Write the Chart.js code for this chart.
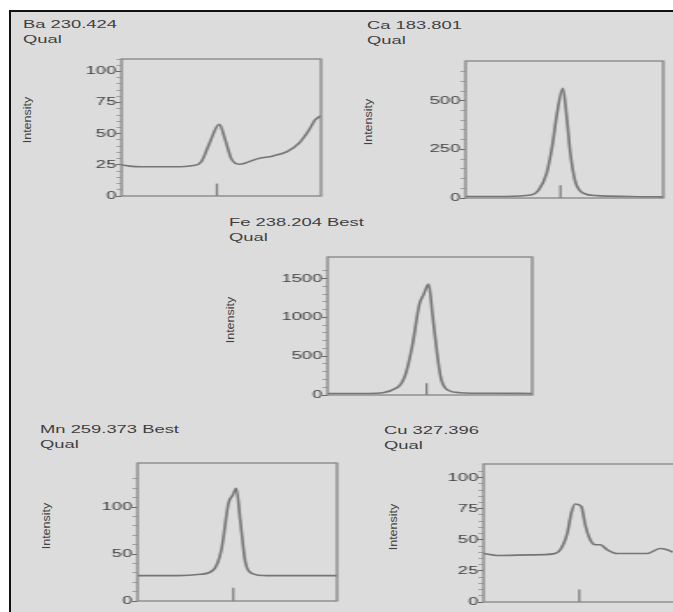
<!DOCTYPE html>
<html>
<head>
<meta charset="utf-8">
<script src="https://cdn.jsdelivr.net/npm/chart.js@4.4.1/dist/chart.umd.min.js"></script>
<style>
  html, body { margin: 0; padding: 0; background: #fff; overflow: hidden; width: 673px; height: 612px; }
  #frame { position: absolute; left: 9px; top: 10px; width: 700px; height: 640px; background: #dcdcdc;
           border-top: 2px solid #111; border-left: 2px solid #111; }
  .ttl { position: absolute; font: 10.5px "Liberation Sans", Arial, sans-serif; line-height: 14.5px; color: #3f3f3f;
         transform: scaleX(1.75); transform-origin: 0 0; white-space: nowrap; }
  .ylab { position: absolute; font: 12.5px "Liberation Sans", Arial, sans-serif; color: #444; white-space: nowrap;
          transform: translate(-50%, -50%) rotate(-90deg) scaleY(0.9); }
  .box { position: absolute; transform-origin: 0 0; }
</style>
</head>
<body>
<div id="frame"></div>
<script>
const S = 1.75;  // the scanned report is stretched sideways
const YW = 34;   // y axis width inside each canvas

// x = position across the scan window (0-100), y = intensity
const baPos = [0, 4, 10, 26, 36, 40, 44, 49, 52, 55, 59, 63, 68, 76, 83, 89, 94, 97, 100];
const baInt = [25, 24, 23.5, 23.5, 24.5, 27.5, 42, 57.5, 45, 30, 25.5, 27, 29.8, 32.2, 35.7, 42.5, 53, 61, 64.5];
const baMark = [47.8, 10];

const caPos = [0, 20, 33, 37, 41, 43.8, 46.3, 49.2, 51.3, 53, 55.5, 59.8, 66.5, 83, 100];
const caInt = [8, 8, 15, 41, 127, 264, 437, 565, 402, 230, 84, 24, 12, 8, 6];
const caMark = [48, 65];

const fePos = [0, 20, 34, 38, 41.5, 44.8, 47, 49.4, 51.3, 53.4, 55.4, 58.7, 65, 80, 100];
const feInt = [20, 20, 95, 258, 646, 1163, 1300, 1430, 1034, 560, 215, 65, 30, 22, 20];
const feMark = [48.4, 150];

const mnPos = [0, 20, 31.5, 38, 42, 45.7, 47.8, 49.5, 51.5, 54, 57.3, 65, 80, 100];
const mnInt = [27, 27, 28.4, 33, 54, 105, 113, 120, 86, 42, 29.5, 27, 27, 27];
const mnMark = [48, 14];

const cuPos = [0, 7, 23.5, 35, 38.5, 42, 44, 46, 49, 51, 53.5, 56, 58.5, 62, 67, 82, 88.5, 92, 95];
const cuInt = [39, 37.4, 37.9, 38.7, 42, 55.4, 71.5, 78.8, 77, 62, 50, 46, 46, 42, 39, 39, 43, 42, 40];
const cuMark = [48, 10];

// y axis: max, labelled step, tick step
const panels = [
  { name: 'Ba 230.424', pos: baPos, val: baInt, mark: baMark, ymax: 110, major: 25, minor: 5,
    L: 121, T: 59, R: 321, B: 196, tx: 23, ty: 17, lx: 27, ly: 120 },
  { name: 'Ca 183.801', pos: caPos, val: caInt, mark: caMark, ymax: 705, major: 250, minor: 50,
    L: 465, T: 61, R: 663, B: 198, tx: 367, ty: 18, lx: 368, ly: 122 },
  { name: 'Fe 238.204 Best', pos: fePos, val: feInt, mark: feMark, ymax: 1780, major: 500, minor: 100,
    L: 327, T: 257, R: 531, B: 395, tx: 229, ty: 215, lx: 230, ly: 320 },
  { name: 'Mn 259.373 Best', pos: mnPos, val: mnInt, mark: mnMark, ymax: 147, major: 50, minor: 10,
    L: 137, T: 463, R: 337, B: 601, tx: 40, ty: 422, lx: 46, ly: 526 },
  { name: 'Cu 327.396', pos: cuPos, val: cuInt, mark: cuMark, ymax: 111, major: 25, minor: 5,
    L: 483, T: 464, R: 683, B: 602, tx: 384, ty: 423, lx: 393, ly: 527 }
];

const boxFrame = {
  id: 'boxFrame',
  afterDraw(chart) {
    const { ctx, chartArea: a } = chart;
    ctx.save();
    ctx.strokeStyle = '#858585';
    ctx.lineWidth = 1.3;
    ctx.strokeRect(a.left, a.top, a.right - a.left, a.bottom - a.top);
    ctx.restore();
  }
};

function addPanel(p) {
  const t = document.createElement('div');
  t.className = 'ttl';
  t.style.left = p.tx + 'px';
  t.style.top = p.ty + 'px';
  t.innerHTML = p.name + '<br>Qual';
  document.body.appendChild(t);

  const yl = document.createElement('div');
  yl.className = 'ylab';
  yl.style.left = p.lx + 'px';
  yl.style.top = p.ly + 'px';
  yl.textContent = 'Intensity';
  document.body.appendChild(yl);

  const w = Math.round(YW + (p.R - p.L) / S + 4);
  const h = (p.B - p.T) + 16;
  const box = document.createElement('div');
  box.className = 'box';
  box.style.left = (p.L - YW * S) + 'px';
  box.style.top = (p.T - 8) + 'px';
  box.style.transform = 'scaleX(' + S + ')';
  const cv = document.createElement('canvas');
  cv.width = w;
  cv.height = h;
  cv.style.width = w + 'px';
  cv.style.height = h + 'px';
  box.appendChild(cv);
  document.body.appendChild(box);

  new Chart(cv.getContext('2d'), {
    type: 'line',
    data: {
      datasets: [
        {
          data: p.pos.map((x, i) => ({ x, y: p.val[i] })),
          borderColor: '#757575',
          borderWidth: 1.6,
          pointRadius: 0,
          cubicInterpolationMode: 'monotone'
        },
        {
          data: [{ x: p.mark[0], y: 0 }, { x: p.mark[0], y: p.mark[1] }],
          borderColor: '#7a7a7a',
          borderWidth: 1.2,
          pointRadius: 0
        }
      ]
    },
    plugins: [boxFrame],
    options: {
      responsive: false,
      animation: false,
      events: [],
      layout: { padding: { left: 0, right: 4, top: 8, bottom: 8 } },
      plugins: { legend: { display: false }, tooltip: { enabled: false } },
      scales: {
        x: { type: 'linear', min: 0, max: 100, display: false },
        y: {
          min: 0,
          max: p.ymax,
          afterFit(s) { s.width = YW; },
          afterBuildTicks(s) { s.ticks = s.ticks.filter(t => t.value % p.minor === 0); },
          border: { display: false },
          grid: {
            drawOnChartArea: false,
            drawTicks: true,
            tickLength: 3,
            lineWidth: 1,
            color: c => (c.tick && c.tick.value % p.major === 0) ? '#666' : '#a0a0a0'
          },
          ticks: {
            stepSize: p.minor,
            autoSkip: false,
            padding: 0,
            color: '#3f3f3f',
            font: { family: '"Liberation Sans", Arial, sans-serif', size: 10.5 },
            callback: v => (v % p.major === 0) ? v : ''
          }
        }
      }
    }
  });
}

panels.forEach(addPanel);
</script>
</body>
</html>
